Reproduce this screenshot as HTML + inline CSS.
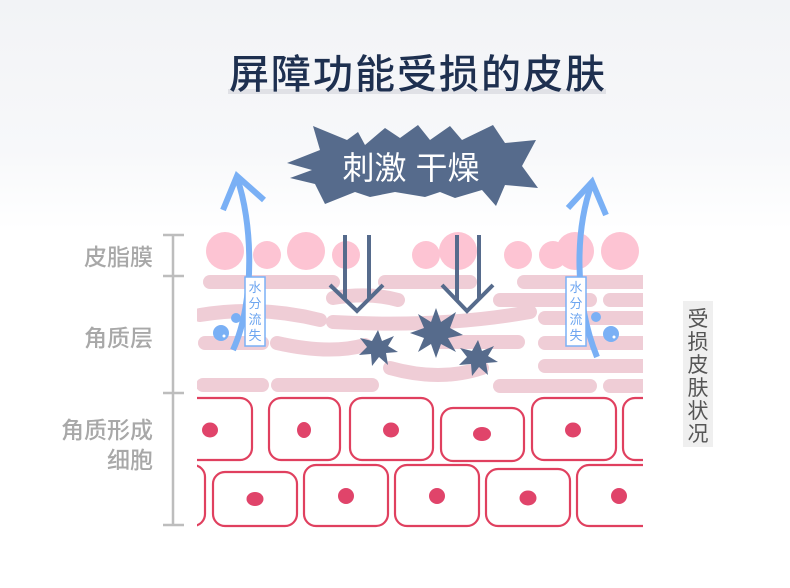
<!DOCTYPE html>
<html><head><meta charset="utf-8"><style>
html,body{margin:0;padding:0;}
body{width:790px;height:588px;overflow:hidden;background:linear-gradient(#f2f3f6 0px,#f7f8fa 150px,#fff 230px);font-family:"Liberation Sans","Noto Sans CJK SC",sans-serif;}
</style></head><body>
<svg width="790" height="588" viewBox="0 0 790 588" xmlns="http://www.w3.org/2000/svg" style="position:absolute;left:0;top:0;font-family:'Liberation Sans','Noto Sans CJK SC',sans-serif">
<defs><clipPath id="c"><rect x="197" y="220" width="446" height="320"/></clipPath></defs>
<!-- title -->
<rect x="228" y="89" width="378" height="5" fill="#e0e1e6"/>
<text x="418" y="88" text-anchor="middle" font-size="40" letter-spacing="2" font-weight="500" fill="#1e3050">屏障功能受损的皮肤</text>
<!-- burst -->
<polygon fill="#566b8c" points="287,163 320,150 313,126 347,140 358,132 365,145 385,128 400,138 418,125 430,140 450,126 462,140 493,125 505,143 536,140 522,166 538,188 505,185 496,206 482,190 455,198 440,192 425,197 395,192 370,197 355,192 325,204 315,184 290,178 312,170"/>
<text x="411" y="179" text-anchor="middle" font-size="32" fill="#fff">刺激 干燥</text>
<!-- bracket -->
<g stroke="#bdbdbd" stroke-width="2.5" fill="none">
<line x1="173" y1="235" x2="173" y2="525"/>
<line x1="163" y1="235" x2="184" y2="235"/><line x1="163" y1="276" x2="184" y2="276"/>
<line x1="163" y1="393" x2="184" y2="393"/><line x1="163" y1="525" x2="184" y2="525"/>
</g>
<g font-size="23" fill="#a8a8a8" text-anchor="end" font-weight="500">
<text x="153" y="265">皮脂膜</text><text x="153" y="346">角质层</text>
<text x="153" y="438">角质形成</text><text x="153" y="468">细胞</text>
</g>
<g clip-path="url(#c)">
<g fill="#fdc4d3">
<circle cx="225" cy="251" r="19"/><circle cx="267" cy="255" r="14"/><circle cx="306" cy="251" r="19"/><circle cx="346" cy="255" r="14"/>
<circle cx="426" cy="255" r="14"/><circle cx="458" cy="251" r="19"/><circle cx="518" cy="255" r="14"/><circle cx="553" cy="255" r="14"/><circle cx="575" cy="251" r="19"/><circle cx="620" cy="251" r="19"/>
</g>
<g stroke="#efcdd6" stroke-width="14" stroke-linecap="round" fill="none">
<line x1="210" y1="282" x2="333" y2="282"/><line x1="385" y1="282" x2="470" y2="282"/><line x1="524" y1="282" x2="650" y2="282"/>
<path d="M333,298 Q370,292 398,300"/><line x1="500" y1="300" x2="590" y2="300"/><line x1="610" y1="300" x2="650" y2="300"/>
<path d="M200,315 Q260,305 320,320"/><path d="M333,322 Q440,328 530,312"/><line x1="545" y1="318" x2="650" y2="318"/>
<line x1="205" y1="343" x2="262" y2="343"/><path d="M277,343 Q330,355 365,345"/><line x1="440" y1="342" x2="518" y2="342"/><line x1="545" y1="343" x2="650" y2="343"/>
<path d="M390,368 Q440,382 482,368"/><line x1="545" y1="366" x2="650" y2="366"/>
<line x1="203" y1="385" x2="262" y2="385"/><line x1="278" y1="385" x2="372" y2="385"/><line x1="500" y1="386" x2="590" y2="386"/><line x1="610" y1="386" x2="650" y2="386"/>
</g>
<g fill="none" stroke="#e0405f" stroke-width="2.2">
<rect x="150" y="398" width="102" height="62" rx="12"/><rect x="269" y="398" width="71" height="62" rx="12"/>
<rect x="350" y="398" width="83" height="62" rx="12"/><rect x="441" y="408" width="83" height="53" rx="12"/>
<rect x="532" y="398" width="84" height="62" rx="12"/><rect x="623" y="398" width="80" height="62" rx="12"/>
<rect x="130" y="465" width="75" height="61" rx="12"/><rect x="213" y="472" width="84" height="54" rx="12"/>
<rect x="304" y="465" width="84" height="61" rx="12"/><rect x="395" y="465" width="84" height="61" rx="12"/>
<rect x="486" y="469" width="84" height="57" rx="12"/><rect x="577" y="465" width="84" height="61" rx="12"/>
</g>
<g fill="#e0446a">
<ellipse cx="210" cy="430" rx="8" ry="7.5"/><ellipse cx="304" cy="430" rx="7" ry="8"/><ellipse cx="391" cy="430" rx="8" ry="7.5"/>
<ellipse cx="482" cy="434" rx="9" ry="7"/><ellipse cx="573" cy="430" rx="8" ry="7.5"/>
<ellipse cx="255" cy="499" rx="8.5" ry="7"/><ellipse cx="346" cy="496" rx="8" ry="8"/><ellipse cx="437" cy="496" rx="8" ry="8"/>
<ellipse cx="528" cy="498" rx="8.5" ry="7.5"/><ellipse cx="619" cy="496" rx="8" ry="8"/>
</g>
</g>
<g stroke="#566b8c" stroke-width="4" fill="none">
<line x1="345" y1="235" x2="345" y2="300"/><line x1="369" y1="235" x2="369" y2="300"/>
<polyline points="330,285 357,311 383,285"/>
<line x1="457" y1="235" x2="457" y2="300"/><line x1="479" y1="235" x2="479" y2="300"/>
<polyline points="442,285 467,311 493,285"/>
</g>
<g fill="#566b8c">
<polygon points="378,330 382,341 394,336 388,346 398,352 386,353 388,365 379,357 372,366 371,354 359,355 367,347 360,338 372,341"/>
<polygon points="436,308 441,322 456,312 450,328 463,335 448,338 456,352 441,344 436,358 431,344 418,352 424,338 410,333 424,328 418,314 431,322"/>
<polygon points="478,340 482,351 494,346 488,356 498,362 486,363 488,375 479,367 472,376 471,364 459,365 467,357 460,348 472,351"/>
</g>
<g stroke="#7ab0f5" stroke-width="6" fill="none" stroke-linejoin="miter">
<path d="M233,350 C256,300 252,220 237,178"/><polyline points="223,210 237,176 264,200"/>
<path d="M597,357 C574,300 575,230 592,183"/><polyline points="568,208 592,182 606,215"/>
</g>
<g fill="#7ab0f5"><circle cx="221" cy="333" r="8"/><circle cx="236" cy="318" r="5"/><circle cx="611" cy="334" r="8"/><circle cx="596" cy="317" r="5"/></g>
<g fill="#fff"><circle cx="224" cy="336" r="1.5"/><circle cx="614" cy="337" r="1.5"/></g>
<g fill="#fff" stroke="#7ab0f5" stroke-width="1.5">
<rect x="245" y="277" width="20" height="69"/><rect x="566" y="277" width="20" height="69"/>
</g>
<g font-size="13" fill="#6ea6f0" text-anchor="middle">
<text x="255" y="292">水</text><text x="255" y="308">分</text><text x="255" y="324">流</text><text x="255" y="340">失</text>
<text x="576" y="292">水</text><text x="576" y="308">分</text><text x="576" y="324">流</text><text x="576" y="340">失</text>
</g>
<rect x="683" y="301" width="30" height="146" fill="#efefef"/>
<g font-size="21" fill="#555" text-anchor="middle">
<text x="698" y="326">受</text><text x="698" y="349">损</text><text x="698" y="372">皮</text><text x="698" y="395">肤</text><text x="698" y="418">状</text><text x="698" y="441">况</text>
</g>
</svg>
</body></html>
